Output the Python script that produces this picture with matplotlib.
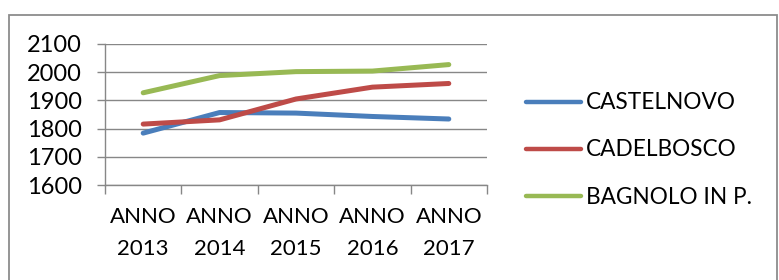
import matplotlib
matplotlib.use("Agg")
import matplotlib.pyplot as plt
from matplotlib.patches import Rectangle

categories = ["ANNO\n2013", "ANNO\n2014", "ANNO\n2015", "ANNO\n2016", "ANNO\n2017"]
castelnovo = [1784, 1857, 1855, 1843, 1834]
cadelbosco = [1816, 1831, 1905, 1947, 1960]
bagnolo = [1927, 1988, 2002, 2004, 2027]
series_names = ["CASTELNOVO", "CADELBOSCO", "BAGNOLO IN P."]
colors = ["#4A7EBB", "#BE4B48", "#98B954"]
yticks = [1600, 1700, 1800, 1900, 2000, 2100]

plt.rcParams['font.family'] = ['Lato', 'DejaVu Sans']
W, H = 779, 280
fig = plt.figure(figsize=(W / 100, H / 100), dpi=100)
ax = fig.add_axes([105 / W, 1 - 185 / H, (487 - 105) / W, (185 - 44) / H])

x = list(range(len(categories)))
for vals, name, c in zip([castelnovo, cadelbosco, bagnolo], series_names, colors):
    ax.plot(x, vals, color=c, lw=3.6, label=name, solid_capstyle='round', solid_joinstyle='round')

ax.set_xlim(-0.5, len(categories) - 0.5)
ax.set_ylim(1600, 2100)
ax.set_yticks(yticks)
ax.set_yticklabels([str(v) for v in yticks])
ax.set_xticks(x)
ax.set_xticklabels(categories, linespacing=1.75)
ax.set_xticks([i - 0.5 for i in range(len(categories) + 1)], minor=True)

gc = "#878787"
ax.grid(axis='y', color=gc, lw=1.0)
ax.set_axisbelow(True)
for s in ['top', 'right']:
    ax.spines[s].set_visible(False)
ax.spines['left'].set_color(gc)
ax.spines['bottom'].set_color(gc)
ax.spines['left'].set_linewidth(1.0)
ax.spines['bottom'].set_linewidth(1.0)

ax.tick_params(axis='y', length=5.8, width=1.0, color=gc, pad=11, labelsize=17)
ax.tick_params(axis='x', which='major', length=0, pad=16, labelsize=16)
ax.tick_params(axis='x', which='minor', length=6.5, width=1.0, color=gc)

leg = ax.legend(loc='center left', bbox_to_anchor=(526 / W, 1 - 150 / H),
                bbox_transform=fig.transFigure, frameon=False, fontsize=16.3,
                handlelength=2.45, handletextpad=0.2, labelspacing=1.15,
                borderpad=0, borderaxespad=0)
for line in leg.get_lines():
    line.set_linewidth(3.2)

fig.patches.append(Rectangle((9 / W, -0.1), (777 - 9) / W, 1.1 - 15 / H,
                             transform=fig.transFigure, fill=False,
                             edgecolor="#8C8C8C", lw=1.3))

fig.savefig("out.png", dpi=100)
